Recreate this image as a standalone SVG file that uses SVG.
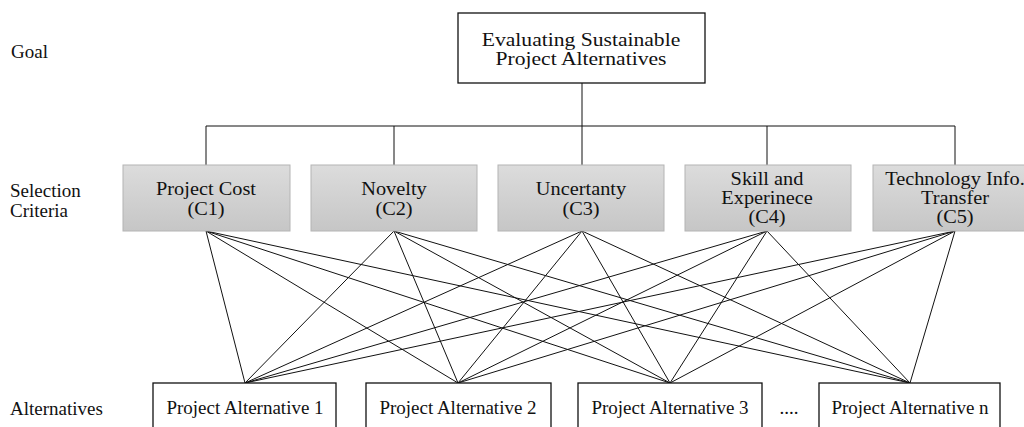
<svg xmlns="http://www.w3.org/2000/svg" width="1024" height="427" viewBox="0 0 1024 427">
<defs>
<linearGradient id="g" x1="0" y1="0" x2="0" y2="1">
<stop offset="0" stop-color="#dcdcdc"/>
<stop offset="1" stop-color="#c6c6c6"/>
</linearGradient>
<style>
text{font-family:"Liberation Serif","Times New Roman",serif;font-size:19px;fill:#111}
.c{text-anchor:middle}
.k{font-size:18px}
.gt{font-size:18px}
.wb{fill:#fff;stroke:#111;stroke-width:1.3}
.cb{fill:url(#g);stroke:#b4b4b4;stroke-width:1}
.ln{stroke:#111;stroke-width:1;fill:none}
</style>
</defs>
<rect width="1024" height="427" fill="#fff"/>
<g id="labels">
<text x="11" y="58">Goal</text>
<text x="10" y="197">Selection</text>
<text x="10" y="217">Criteria</text>
<text x="10" y="415">Alternatives</text>
</g>
<g id="connectors">
<path class="ln" d="M582,83 V126" stroke-width="2"/>
<path class="ln" d="M206,126 H955 M206,126 V165 M394,126 V165 M582,126 V165 M767,126 V165 M955,126 V165" stroke-width="1.3"/>
<path class="ln" d="M206,231 L245,383 M206,231 L458,383 M206,231 L670,383 M206,231 L910,383
M394,231 L245,383 M394,231 L458,383 M394,231 L670,383 M394,231 L910,383
M582,231 L245,383 M582,231 L458,383 M582,231 L670,383 M582,231 L910,383
M767,231 L245,383 M767,231 L458,383 M767,231 L670,383 M767,231 L910,383
M955,231 L245,383 M955,231 L458,383 M955,231 L670,383 M955,231 L910,383"/>
</g>
<g id="goal">
<rect class="wb" x="458" y="13" width="247" height="70"/>
<g transform="translate(581,0) scale(1.2,1)">
<text class="c gt" x="0" y="46">Evaluating Sustainable</text>
<text class="c gt" x="0" y="65">Project Alternatives</text>
</g>
</g>
<g id="c1">
<rect class="cb" x="123" y="165" width="167" height="66"/>
<g transform="translate(206,0) scale(1.13,1)">
<text class="c k" x="0" y="195">Project Cost</text>
<text class="c k" x="0" y="215">(C1)</text>
</g>
</g>
<g id="c2">
<rect class="cb" x="311" y="165" width="166" height="66"/>
<g transform="translate(394,0) scale(1.13,1)">
<text class="c k" x="0" y="195">Novelty</text>
<text class="c k" x="0" y="215">(C2)</text>
</g>
</g>
<g id="c3">
<rect class="cb" x="498" y="165" width="166" height="66"/>
<g transform="translate(581,0) scale(1.13,1)">
<text class="c k" x="0" y="195">Uncertanty</text>
<text class="c k" x="0" y="215">(C3)</text>
</g>
</g>
<g id="c4">
<rect class="cb" x="685" y="165" width="166" height="66"/>
<g transform="translate(767,0) scale(1.13,1)">
<text class="c k" x="0" y="185">Skill and</text>
<text class="c k" x="0" y="204">Experinece</text>
<text class="c k" x="0" y="223">(C4)</text>
</g>
</g>
<g id="c5">
<rect class="cb" x="873" y="165" width="166" height="66"/>
<g transform="translate(955,0) scale(1.13,1)">
<text class="c k" x="0" y="185">Technology Info.</text>
<text class="c k" x="0" y="204">Transfer</text>
<text class="c k" x="0" y="223">(C5)</text>
</g>
</g>
<g id="a1">
<rect class="wb" x="153" y="383" width="183" height="60"/>
<text class="c" x="245" y="414">Project Alternative 1</text>
</g>
<g id="a2">
<rect class="wb" x="366" y="383" width="185" height="60"/>
<text class="c" x="458" y="414">Project Alternative 2</text>
</g>
<g id="a3">
<rect class="wb" x="578" y="383" width="184" height="60"/>
<text class="c" x="670" y="414">Project Alternative 3</text>
</g>
<g id="dots">
<text class="c" x="789" y="414">....</text>
</g>
<g id="an">
<rect class="wb" x="819" y="383" width="181" height="60"/>
<text class="c" x="910" y="414">Project Alternative n</text>
</g>
</svg>
